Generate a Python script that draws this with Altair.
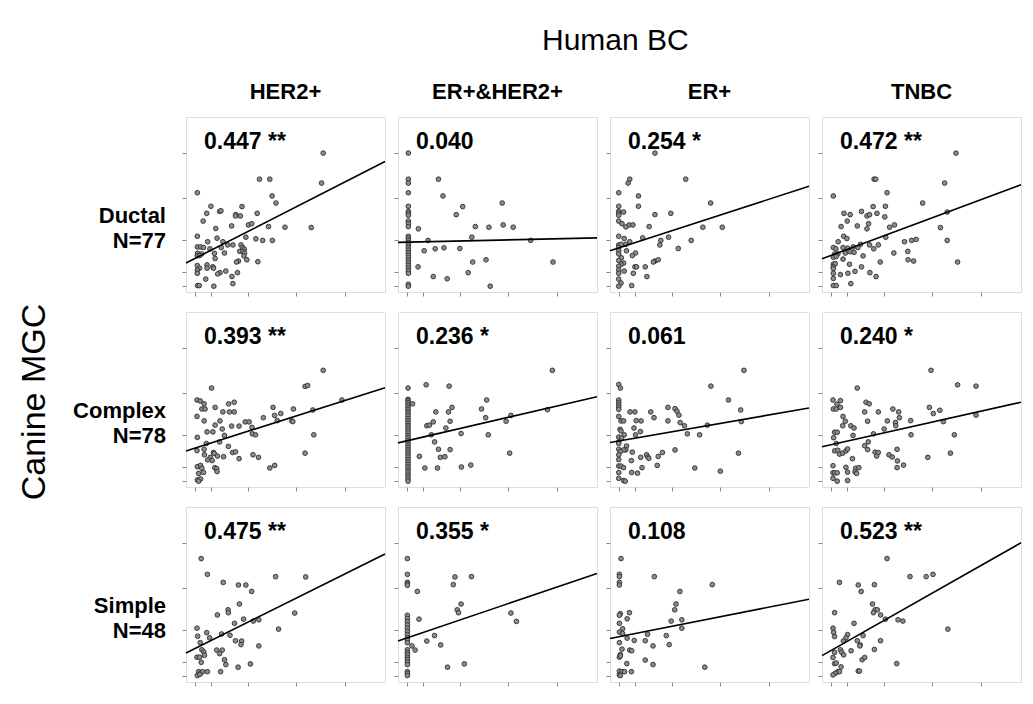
import altair as alt
import pandas as pd

ROWS = ["Ductal", "Complex", "Simple"]
ROW_N = ["N=77", "N=78", "N=48"]
COLS = ["HER2+", "ER+&HER2+", "ER+", "TNBC"]
R_TEXT = [["0.447 **", "0.040", "0.254 *", "0.472 **"],
          ["0.393 **", "0.236 *", "0.061", "0.240 *"],
          ["0.475 **", "0.355 *", "0.108", "0.523 **"]]
# fitted line value at the left and right end of the x range
LINE_LEFT = [[90, 154, 128, 103], [112, 137, 138, 125], [90, 127, 135, 82]]
LINE_RIGHT = [[405, 168, 328, 333], [308, 280, 245, 263], [397, 337, 257, 432]]
X_TICKS = [29, 76, 191, 339, 491]
Y_TICKS = [18, 61, 161, 293, 432]
X_MAX = 615
Y_MAX = 543

DUCTAL_HER2 = [(424,431),(419,338),(227,350),(259,350),(35,308),(266,298),(278,276),(77,266),(173,265),(64,244),(104,250),(108,252),(154,240),(168,236),(153,236),(220,244),(53,220),(92,197),(141,205),(193,208),(203,212),(255,203),(306,201),(387,200),(35,173),(96,167),(185,170),(216,165),(237,160),(267,160),(67,156),(114,156),(35,140),(45,140),(54,138),(74,134),(129,146),(145,146),(170,146),(175,138),(180,133),(166,126),(176,126),(109,138),(36,120),(48,118),(88,120),(119,121),(181,121),(35,113),(42,113),(179,112),(90,104),(188,100),(162,96),(156,93),(222,94),(35,82),(65,84),(83,78),(85,74),(42,74),(65,74),(35,68),(123,65),(105,60),(98,56),(159,60),(35,58),(61,40),(142,48),(36,20),(86,18),(145,26),(41,20)]
DUCTAL_ERHER2 = [(32,v) for v in [431,350,338,308,266,250,244,238,220,212,203,173,167,160,153,146,138,130,122,114,106,98,90,82,74,66,58,24,18]] + [(125,350),(139,298),(200,265),(180,240),(63,196),(239,203),(281,201),(322,276),(325,208),(356,201),(228,170),(93,160),(410,160),(81,128),(115,134),(142,137),(191,135),(62,78),(231,93),(272,100),(479,93),(217,60),(109,48),(152,41),(285,18)]
DUCTAL_ER = [(139,431),(234,350),(61,350),(56,338),(27,308),(88,298),(88,266),(27,266),(311,276),(27,250),(27,244),(42,248),(27,238),(139,240),(188,244),(27,220),(37,212),(59,208),(71,208),(49,202),(121,203),(287,201),(347,201),(27,173),(44,166),(101,168),(181,170),(157,160),(251,160),(61,156),(27,146),(35,148),(49,148),(27,138),(154,146),(211,135),(27,128),(51,128),(27,118),(79,121),(69,113),(35,106),(27,98),(42,90),(35,86),(27,80),(77,78),(82,78),(109,78),(139,96),(149,100),(134,93),(27,68),(44,65),(72,58),(114,48),(27,58),(27,40),(34,28),(27,18),(67,20)]
DUCTAL_TNBC = [(414,431),(161,350),(166,350),(379,338),(35,298),(201,308),(311,276),(196,266),(158,265),(68,244),(87,240),(122,250),(139,236),(147,240),(170,244),(78,220),(109,205),(59,203),(144,212),(194,233),(209,201),(224,208),(139,196),(366,200),(387,248),(67,173),(77,166),(197,170),(50,156),(119,148),(147,146),(174,146),(255,156),(277,160),(291,163),(387,160),(35,138),(43,134),(65,138),(79,136),(97,140),(111,138),(87,125),(99,123),(72,121),(49,118),(39,118),(127,112),(160,134),(222,121),(265,126),(35,108),(44,110),(65,102),(85,86),(122,78),(180,93),(266,100),(283,96),(419,93),(35,86),(41,88),(35,78),(35,73),(57,54),(80,58),(102,64),(148,60),(167,48),(35,58),(35,42),(89,26),(35,20),(44,20)]

COMPLEX_HER2 = [(424,362),(368,312),(376,315),(79,307),(482,270),(392,239),(34,270),(44,267),(56,258),(49,242),(59,242),(90,247),(132,258),(149,263),(269,247),(332,242),(34,219),(114,233),(134,233),(149,233),(239,215),(274,222),(293,228),(56,205),(105,205),(90,192),(141,189),(164,189),(183,202),(195,202),(282,206),(327,205),(330,203),(35,154),(65,171),(83,171),(112,180),(119,160),(204,185),(205,165),(215,162),(395,162),(63,135),(104,140),(34,113),(56,117),(131,126),(144,107),(153,109),(57,100),(85,107),(87,104),(75,92),(97,96),(116,94),(67,84),(81,82),(164,88),(207,100),(224,92),(368,105),(35,63),(45,67),(49,58),(54,45),(39,42),(89,60),(95,57),(96,48),(35,22),(45,25),(39,18),(259,59),(274,67)]
COMPLEX_ERHER2 = [(31,v) for v in [307,272,268,262,255,248,241,234,227,220,212,205,198,190,183,175,168,160,153,145,138,130,123,115,108,100,93,85,78,70,63,55,48,40,33,25,18]] + [(477,362),(87,317),(158,313),(45,258),(274,270),(167,247),(117,233),(156,233),(258,242),(89,190),(97,192),(109,202),(161,204),(148,183),(271,215),(334,204),(349,222),(462,240),(103,162),(195,166),(279,162),(113,140),(125,117),(161,116),(66,95),(131,92),(145,94),(345,105),(83,59),(122,59),(196,62),(225,68)]
COMPLEX_ER = [(414,362),(312,313),(27,318),(32,307),(366,270),(27,270),(27,262),(27,255),(27,248),(27,241),(179,247),(201,243),(207,235),(404,239),(62,233),(77,233),(126,233),(213,223),(27,219),(136,215),(406,203),(34,205),(42,205),(81,206),(96,205),(179,205),(217,200),(230,190),(301,192),(74,183),(31,179),(34,174),(94,172),(239,165),(277,162),(44,162),(79,162),(27,155),(36,152),(27,140),(27,135),(51,127),(49,115),(42,115),(27,117),(32,110),(201,115),(27,100),(69,108),(113,100),(117,93),(162,107),(149,95),(120,89),(95,92),(66,82),(27,85),(27,65),(34,65),(42,60),(99,60),(146,67),(27,45),(67,45),(85,43),(27,27),(42,20),(47,18),(262,59),(341,49),(397,105)]
COMPLEX_TNBC = [(337,362),(109,307),(419,317),(476,313),(34,270),(57,268),(46,257),(35,242),(44,242),(57,247),(136,263),(146,258),(219,242),(332,247),(65,219),(72,204),(132,233),(174,233),(237,233),(364,238),(344,228),(141,204),(202,205),(227,200),(239,215),(274,206),(375,203),(476,223),(64,190),(89,190),(99,183),(192,180),(228,190),(39,170),(47,170),(36,153),(96,160),(159,165),(275,162),(409,162),(44,135),(132,128),(143,140),(232,117),(39,112),(49,114),(54,102),(64,105),(74,112),(79,118),(94,88),(141,116),(164,108),(174,107),(169,96),(207,100),(217,93),(327,92),(397,105),(34,66),(74,61),(104,58),(114,60),(79,46),(102,47),(107,42),(233,81),(232,60),(252,68),(34,44),(39,44),(47,44),(34,27),(47,18),(79,20)]

SIMPLE_HER2 = [(47,383),(66,334),(115,309),(162,301),(185,301),(203,281),(277,327),(370,326),(165,242),(97,208),(130,224),(131,215),(178,195),(150,182),(208,189),(225,193),(336,214),(34,167),(64,153),(110,149),(73,137),(136,145),(36,142),(44,122),(49,100),(55,93),(57,83),(286,164),(153,128),(172,127),(170,116),(225,112),(95,99),(112,99),(104,88),(119,69),(123,54),(34,77),(42,77),(47,61),(107,32),(161,46),(199,56),(39,32),(45,27),(51,32),(35,20),(66,32),(43,24)]
SIMPLE_ERHER2 = [(29,v) for v in [383,334,309,305,300,207,197,187,177,167,157,147,137,130,122,100,92,85,77,70,62,54,32,27,20]] + [(60,281),(65,195),(43,112),(53,99),(89,127),(113,144),(132,115),(171,302),(176,326),(227,327),(195,242),(183,224),(187,215),(349,214),(366,188),(153,46),(205,56)]
SIMPLE_ER = [(34,383),(29,334),(29,327),(29,309),(29,301),(137,327),(316,302),(216,281),(204,242),(200,224),(60,215),(32,212),(29,207),(53,196),(189,189),(222,193),(29,182),(39,165),(222,167),(29,155),(39,150),(53,136),(75,129),(116,148),(109,128),(174,144),(183,116),(133,112),(29,122),(37,102),(61,99),(67,97),(32,85),(29,77),(32,81),(52,57),(109,68),(133,54),(29,34),(37,32),(45,32),(66,32),(29,22),(32,20),(293,46)]
SIMPLE_TNBC = [(201,383),(54,309),(112,301),(162,302),(121,281),(272,327),(322,327),(343,334),(156,242),(164,224),(171,224),(159,215),(39,215),(181,208),(196,195),(235,193),(250,189),(99,182),(389,164),(34,167),(36,154),(39,141),(79,147),(74,137),(66,127),(127,144),(109,128),(118,115),(117,112),(181,128),(162,101),(39,92),(57,100),(61,92),(67,84),(90,97),(124,69),(132,76),(34,76),(39,57),(44,59),(59,47),(49,32),(41,27),(34,22),(54,32),(112,34),(116,34),(231,57)]

POINTS = [[DUCTAL_HER2, DUCTAL_ERHER2, DUCTAL_ER, DUCTAL_TNBC],
          [COMPLEX_HER2, COMPLEX_ERHER2, COMPLEX_ER, COMPLEX_TNBC],
          [SIMPLE_HER2, SIMPLE_ERHER2, SIMPLE_ER, SIMPLE_TNBC]]

FONT = "Liberation Sans"
W, H = 199, 175

records = []
for i, rname in enumerate(ROWS):
    for j, cname in enumerate(COLS):
        for (x, y) in POINTS[i][j]:
            records.append({"row": rname, "col": cname, "kind": "pt", "x": x, "y": y})
        records.append({"row": rname, "col": cname, "kind": "fit", "x": 0, "y": LINE_LEFT[i][j]})
        records.append({"row": rname, "col": cname, "kind": "fit", "x": X_MAX, "y": LINE_RIGHT[i][j]})
        records.append({"row": rname, "col": cname, "kind": "lab", "text": R_TEXT[i][j],
                        "rowtxt": rname + "|" + ROW_N[i]})
df = pd.DataFrame(records)

xscale = alt.Scale(domain=[0, X_MAX], nice=False, zero=False)
yscale = alt.Scale(domain=[0, Y_MAX], nice=False, zero=False)
xaxis = alt.Axis(values=X_TICKS, labels=False, domain=False, grid=False, ticks=True,
                 tickSize=4, tickColor="#8a8a8a", title=None)
yaxis = alt.Axis(values=Y_TICKS, labels=False, domain=False, grid=False, ticks=True,
                 tickSize=4, tickColor="#8a8a8a", title=None)

pts = alt.Chart().mark_circle(size=22, color="#8c8c8c", stroke="#2e2e2e",
                              strokeWidth=0.9, opacity=1).encode(
    x=alt.X("x:Q", scale=xscale, axis=xaxis),
    y=alt.Y("y:Q", scale=yscale, axis=yaxis),
).transform_filter("datum.kind == 'pt'")

fit = alt.Chart().mark_line(color="black", strokeWidth=1.6).encode(
    x=alt.X("x:Q", scale=xscale, axis=xaxis),
    y=alt.Y("y:Q", scale=yscale, axis=yaxis),
).transform_filter("datum.kind == 'fit'")

lab = alt.Chart().mark_text(align="left", baseline="middle", font=FONT, fontSize=23,
                            fontWeight="bold", color="black").encode(
    x=alt.value(18), y=alt.value(25), text="text:N"
).transform_filter("datum.kind == 'lab'")

rowlab = alt.Chart().mark_text(align="right", baseline="middle", font=FONT, fontSize=22,
                               fontWeight="bold", color="black", lineBreak="|",
                               lineHeight=25).encode(
    x=alt.value(-20), y=alt.value(99), text="rowtxt:N"
).transform_filter("datum.kind == 'lab' && datum.col == 'HER2+'")

panel = alt.layer(pts, fit, lab, rowlab, data=df).properties(width=W, height=H)

chart = panel.facet(
    row=alt.Row("row:N", sort=ROWS,
                header=alt.Header(title="Canine MGC", titleFont=FONT, titleFontSize=34,
                                  titleFontWeight="normal", titleColor="black",
                                  titlePadding=124, titleOrient="left", labels=False)),
    column=alt.Column("col:N", sort=COLS, title=None,
                      header=alt.Header(labelFont=FONT, labelFontSize=22,
                                        labelFontWeight="bold", labelColor="black",
                                        labelPadding=13)),
    spacing={"row": 20, "column": 13},
    bounds="flush",
).resolve_axis(x="independent", y="independent").properties(
    title=alt.TitleParams("Human BC", font=FONT, fontSize=30, fontWeight="normal",
                          color="black", anchor="middle", dx=94, offset=25),
    padding={"left": 10, "top": 18, "right": 0, "bottom": 0}
).configure_view(stroke="#9a9a9a", strokeWidth=1).configure(background="white")

chart.save("out.html", embed_options={"renderer": "svg", "actions": False})
